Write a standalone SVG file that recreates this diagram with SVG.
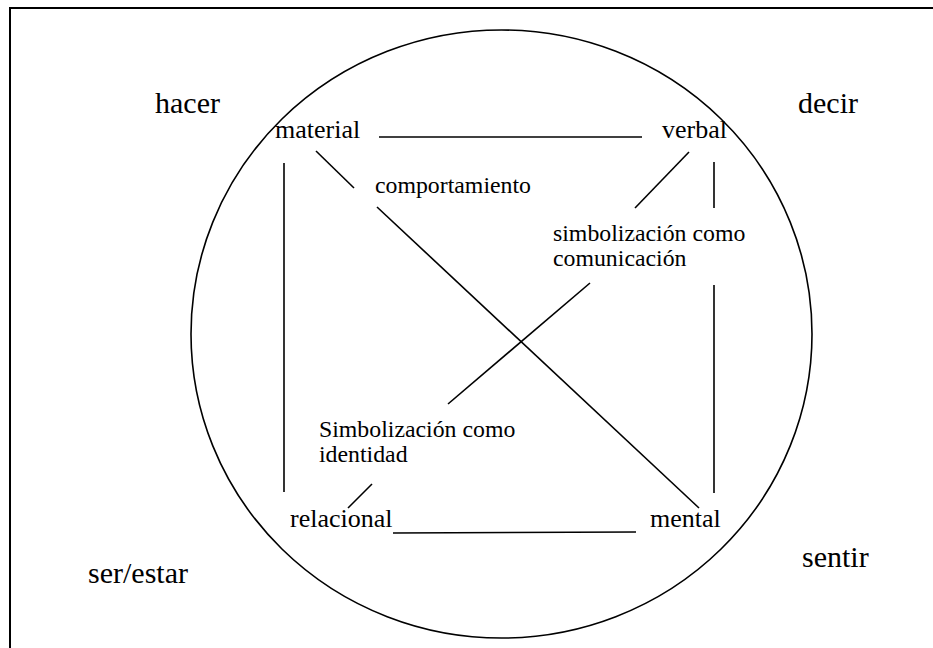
<svg xmlns="http://www.w3.org/2000/svg" width="933" height="648" viewBox="0 0 933 648">
  <style>
    .frame { fill: none; stroke: #000; stroke-width: 2; }
    .ring { fill: none; stroke: #000; stroke-width: 1.6; }
    .link { stroke: #000; stroke-width: 1.6; fill: none; }
    text { font-family: "Liberation Serif", "Times New Roman", serif; fill: #000; }
    .outer { font-size: 30px; }
    .proc { font-size: 26px; }
    .sub { font-size: 23.8px; }
  </style>
  <rect width="933" height="648" fill="#fff"/>
  <!-- page frame, open past the right and bottom edges -->
  <rect class="frame" x="10" y="8" width="940" height="660"/>
  <ellipse class="ring" cx="501.5" cy="334" rx="310.5" ry="304"/>

  <g id="connectors">
    <line class="link" x1="379" y1="137" x2="642" y2="137"/>
    <line class="link" x1="284" y1="163" x2="284" y2="492"/>
    <line class="link" x1="316" y1="151" x2="354" y2="188"/>
    <line class="link" x1="377" y1="207" x2="699" y2="508"/>
    <line class="link" x1="689" y1="152" x2="635" y2="208"/>
    <line class="link" x1="714" y1="162" x2="714" y2="208"/>
    <line class="link" x1="714" y1="285" x2="714" y2="493"/>
    <line class="link" x1="590" y1="283" x2="448" y2="404"/>
    <line class="link" x1="372" y1="484" x2="348" y2="508"/>
    <line class="link" x1="393" y1="533" x2="636" y2="532"/>
  </g>

  <g id="hacer"><text class="outer" x="155" y="113">hacer</text></g>
  <g id="decir"><text class="outer" x="798" y="113">decir</text></g>
  <g id="ser-estar"><text class="outer" x="88" y="583">ser/estar</text></g>
  <g id="sentir"><text class="outer" x="802" y="567">sentir</text></g>

  <g id="material"><text class="proc" x="275" y="138">material</text></g>
  <g id="verbal"><text class="proc" x="662" y="138">verbal</text></g>
  <g id="relacional"><text class="proc" x="290" y="527">relacional</text></g>
  <g id="mental"><text class="proc" x="650" y="527">mental</text></g>

  <g id="comportamiento"><text class="sub" x="375" y="193">comportamiento</text></g>
  <g id="simbolizacion-comunicacion">
    <text class="sub" x="553" y="241">simbolización como</text>
    <text class="sub" x="553" y="266">comunicación</text>
  </g>
  <g id="simbolizacion-identidad">
    <text class="sub" x="319" y="437">Simbolización como</text>
    <text class="sub" x="319" y="462">identidad</text>
  </g>
</svg>
